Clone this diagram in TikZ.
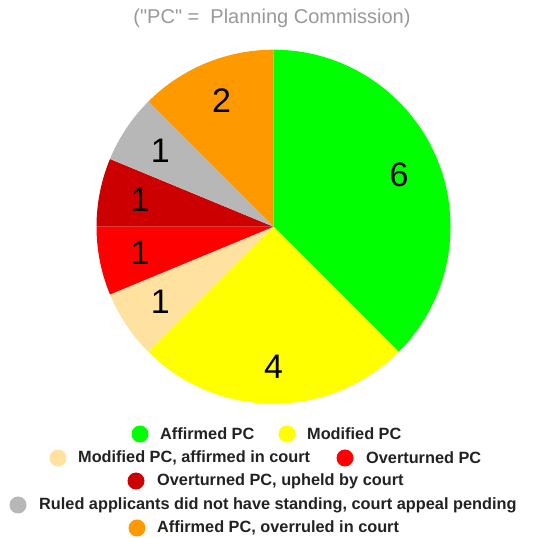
\documentclass[tikz,border=0pt]{standalone}
\usepackage{fontspec}
\setmainfont{Liberation Sans}
\newfontfamily\titlefont{Liberation Sans}
\usetikzlibrary{calc}
\definecolor{cAff}{HTML}{00FF00}
\definecolor{cMod}{HTML}{FFFF00}
\definecolor{cModAff}{HTML}{FFE29F}
\definecolor{cOver}{HTML}{FF0000}
\definecolor{cOverUp}{HTML}{CC0000}
\definecolor{cRuled}{HTML}{B7B7B7}
\definecolor{cAffOver}{HTML}{FF9900}
\definecolor{cTitle}{HTML}{999999}
\definecolor{cLeg}{HTML}{222222}
\begin{document}
\begin{tikzpicture}[x=1pt,y=1pt,
  slicelabel/.style={font=\fontsize{34}{34}\selectfont, text=black, inner sep=0pt},
  legtext/.style={font=\bfseries\fontsize{16.3}{16.3}\selectfont, text=cLeg, anchor=west, inner sep=0pt},
  legdot/.style={circle, minimum size=17pt, inner sep=0pt}]
\useasboundingbox[fill=white] (0,0) rectangle (538,538);
\coordinate (c) at (273.5,311.3);
\def\R{177}
\fill[cAff] (c) -- ++(90:\R) arc[start angle=90, end angle=-45, radius=\R] -- cycle;
\fill[cMod] (c) -- ++(-45:\R) arc[start angle=-45, end angle=-135, radius=\R] -- cycle;
\fill[cModAff] (c) -- ++(-135:\R) arc[start angle=-135, end angle=-157.5, radius=\R] -- cycle;
\fill[cOver] (c) -- ++(-157.5:\R) arc[start angle=-157.5, end angle=-180, radius=\R] -- cycle;
\fill[cOverUp] (c) -- ++(-180:\R) arc[start angle=-180, end angle=-202.5, radius=\R] -- cycle;
\fill[cRuled] (c) -- ++(-202.5:\R) arc[start angle=-202.5, end angle=-225, radius=\R] -- cycle;
\fill[cAffOver] (c) -- ++(-225:\R) arc[start angle=-225, end angle=-270, radius=\R] -- cycle;
% slice labels
\node[slicelabel] (l1) at ($(c)+(22.5:136)$) {6};
\node[slicelabel] (l2) at ($(c)+(-90:140)$) {4};
\node[slicelabel] (l3) at ($(c)+(-146.25:136)$) {1};
\node[slicelabel] (l4) at ($(c)+(-168.75:136)$) {1};
\node[slicelabel] (l5) at ($(c)+(-191.25:136)$) {1};
\node[slicelabel] (l6) at ($(c)+(-213.75:136)$) {1};
\node[slicelabel] (l7) at ($(c)+(-247.5:136)$) {2};
% title
\node[font=\titlefont\fontsize{20}{20}\selectfont, text=cTitle] (title) at (272,520) {("PC" =\ \ Planning Commission)};
% legend
\node[legdot, fill=cAff] (d1) at (140,104) {};
\node[legtext] (t1) at (160,104) {Affirmed PC};
\node[legdot, fill=cMod] (d2) at (287,104) {};
\node[legtext] (t2) at (307,104) {Modified PC};
\node[legdot, fill=cModAff] (d3) at (58,80) {};
\node[legtext] (t3) at (78,80) {Modified PC, affirmed in court};
\node[legdot, fill=cOver] (d4) at (345,80) {};
\node[legtext] (t4) at (366,80) {Overturned PC};
\node[legdot, fill=cOverUp] (d5) at (136,57) {};
\node[legtext] (t5) at (157,57) {Overturned PC, upheld by court};
\node[legdot, fill=cRuled] (d6) at (18,33) {};
\node[legtext] (t6) at (39,33) {Ruled applicants did not have standing, court appeal pending};
\node[legdot, fill=cAffOver] (d7) at (137,10) {};
\node[legtext] (t7) at (157,10) {Affirmed PC, overruled in court};
\end{tikzpicture}
\end{document}
